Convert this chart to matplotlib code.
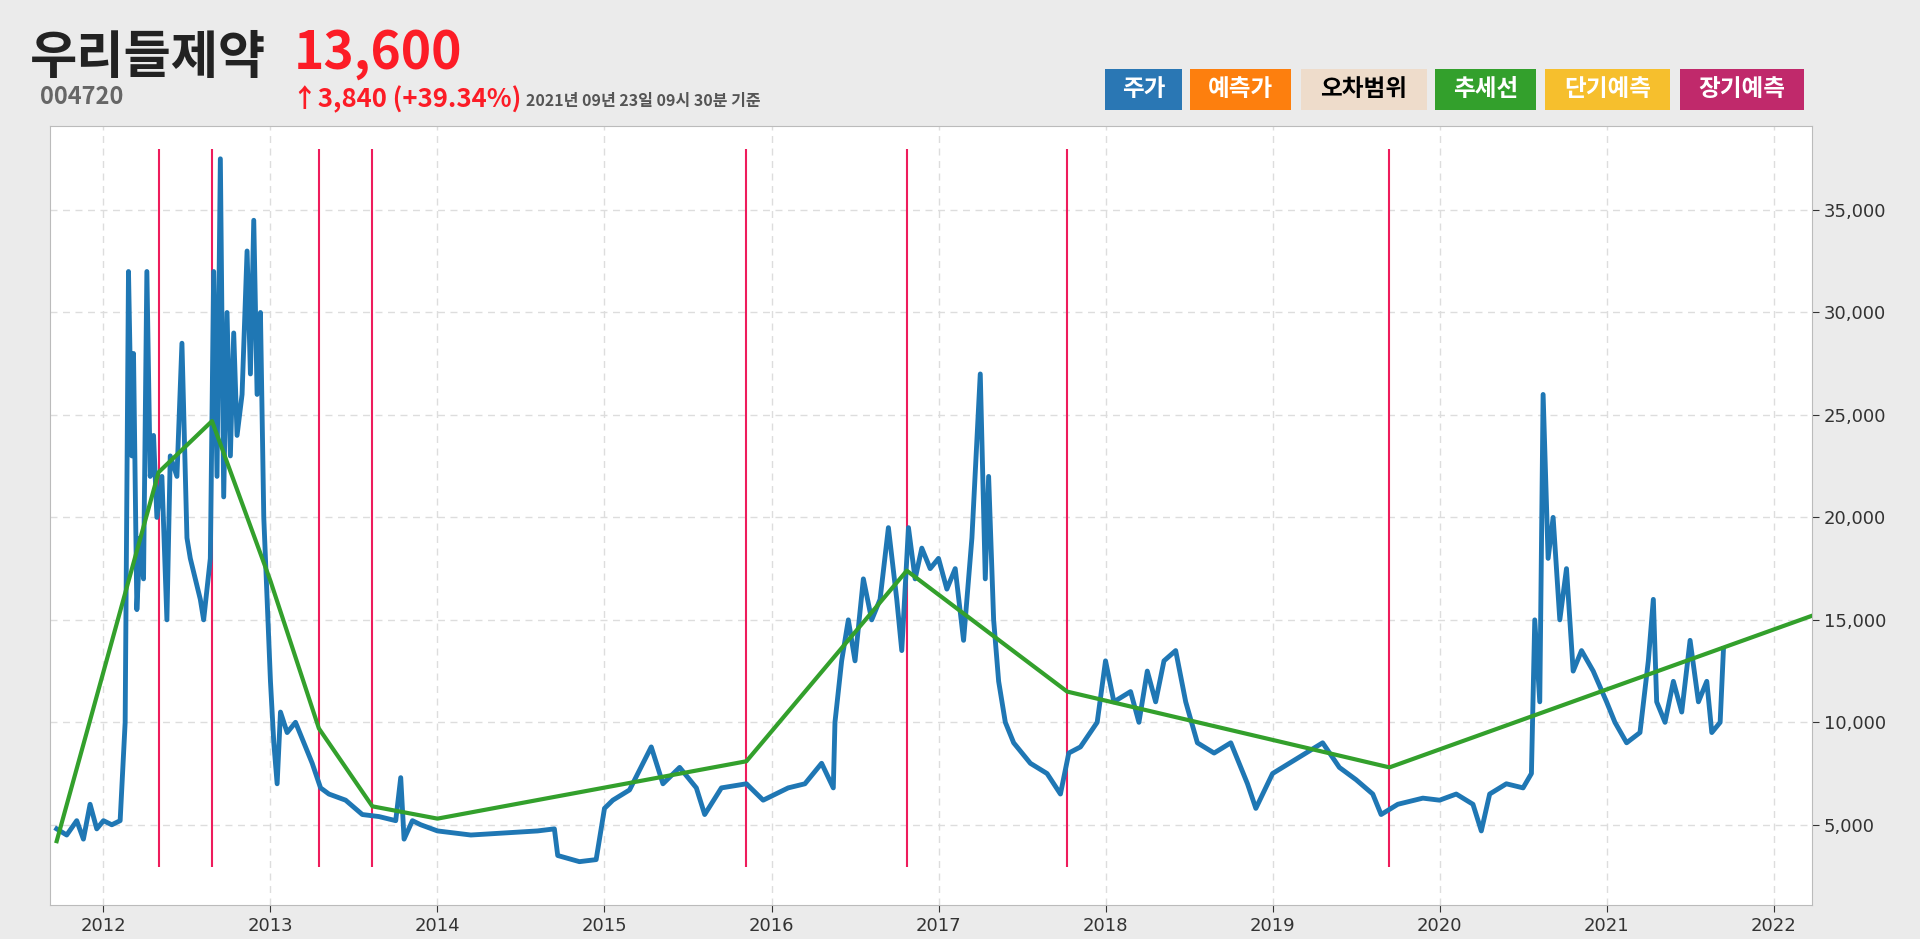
import matplotlib
matplotlib.use("Agg")
import matplotlib.pyplot as plt
from matplotlib.patches import Rectangle

KR = ["Noto Sans CJK KR", "Noto Sans CJK JP", "Noto Sans CJK SC", "DejaVu Sans"]

# price (decimal year, won)
price_x = [2011.72, 2011.78, 2011.84, 2011.88, 2011.92, 2011.96, 2012.0, 2012.05, 2012.1, 2012.13,
           2012.15, 2012.17, 2012.18, 2012.2, 2012.22, 2012.24, 2012.26, 2012.28, 2012.3, 2012.32,
           2012.35, 2012.38, 2012.4, 2012.44, 2012.47, 2012.5, 2012.52, 2012.55, 2012.58, 2012.6,
           2012.64, 2012.66, 2012.68, 2012.7, 2012.72, 2012.74, 2012.76, 2012.78, 2012.8, 2012.83,
           2012.86, 2012.88, 2012.9, 2012.92, 2012.94, 2012.96, 2013.0, 2013.02, 2013.04, 2013.06,
           2013.1, 2013.15, 2013.2, 2013.25, 2013.3, 2013.35, 2013.45, 2013.55, 2013.65, 2013.75,
           2013.78, 2013.8, 2013.85, 2013.9, 2014.0, 2014.2, 2014.4, 2014.6, 2014.7, 2014.72,
           2014.85, 2014.95, 2015.0, 2015.05, 2015.15, 2015.28, 2015.35, 2015.45, 2015.55, 2015.6,
           2015.7, 2015.85, 2015.95, 2016.1, 2016.2, 2016.3, 2016.37, 2016.38, 2016.42, 2016.46,
           2016.5, 2016.55, 2016.6, 2016.65, 2016.7, 2016.75, 2016.78, 2016.82, 2016.86, 2016.9,
           2016.95, 2017.0, 2017.05, 2017.1, 2017.15, 2017.2, 2017.25, 2017.28, 2017.3, 2017.33,
           2017.36, 2017.4, 2017.45, 2017.55, 2017.65, 2017.73, 2017.78, 2017.85, 2017.95, 2018.0,
           2018.05, 2018.15, 2018.2, 2018.25, 2018.3, 2018.35, 2018.42, 2018.48, 2018.55, 2018.65,
           2018.75, 2018.85, 2018.9, 2019.0, 2019.1, 2019.2, 2019.3, 2019.4, 2019.5, 2019.6,
           2019.65, 2019.75, 2019.9, 2020.0, 2020.1, 2020.2, 2020.25, 2020.3, 2020.4, 2020.5,
           2020.55, 2020.57, 2020.6, 2020.62, 2020.65, 2020.68, 2020.72, 2020.76, 2020.8, 2020.85,
           2020.92, 2021.0, 2021.05, 2021.12, 2021.2, 2021.25, 2021.28, 2021.3, 2021.35, 2021.4,
           2021.45, 2021.5, 2021.55, 2021.6, 2021.63, 2021.68, 2021.7]
price_y = [4800, 4500, 5200, 4300, 6000, 4800, 5200, 5000, 5200, 10000,
           32000, 23000, 28000, 15500, 19000, 17000, 32000, 22000, 24000, 20000,
           22000, 15000, 23000, 22000, 28500, 19000, 18000, 17000, 16000, 15000,
           18000, 32000, 22000, 37500, 21000, 30000, 23000, 29000, 24000, 26000,
           33000, 27000, 34500, 26000, 30000, 20000, 12000, 9000, 7000, 10500,
           9500, 10000, 9000, 8000, 6800, 6500, 6200, 5500, 5400, 5200,
           7300, 4300, 5200, 5000, 4700, 4500, 4600, 4700, 4800, 3500,
           3200, 3300, 5800, 6200, 6700, 8800, 7000, 7800, 6800, 5500,
           6800, 7000, 6200, 6800, 7000, 8000, 6800, 10000, 13000, 15000,
           13000, 17000, 15000, 16000, 19500, 16000, 13500, 19500, 17000, 18500,
           17500, 18000, 16500, 17500, 14000, 19000, 27000, 17000, 22000, 15000,
           12000, 10000, 9000, 8000, 7500, 6500, 8500, 8800, 10000, 13000,
           11000, 11500, 10000, 12500, 11000, 13000, 13500, 11000, 9000, 8500,
           9000, 7000, 5800, 7500, 8000, 8500, 9000, 7800, 7200, 6500,
           5500, 6000, 6300, 6200, 6500, 6000, 4700, 6500, 7000, 6800,
           7500, 15000, 11000, 26000, 18000, 20000, 15000, 17500, 12500, 13500,
           12500, 11000, 10000, 9000, 9500, 13000, 16000, 11000, 10000, 12000,
           10500, 14000, 11000, 12000, 9500, 10000, 13600]

# trend line knots
trend_x = [2011.72, 2012.33, 2012.65, 2013.0, 2013.29, 2013.61, 2014.0, 2015.85, 2016.81, 2017.77, 2019.70, 2022.23]
trend_y = [4200, 22200, 24700, 16900, 9700, 5900, 5300, 8100, 17400, 11500, 7800, 15200]

# long-term forecast markers
event_x = [2012.33, 2012.65, 2013.29, 2013.61, 2015.85, 2016.81, 2017.77, 2019.70]

year_ticks = list(range(2012, 2023))
price_ticks = [5000, 10000, 15000, 20000, 25000, 30000, 35000]

legend_names = ["주가", "예측가", "오차범위", "추세선", "단기예측", "장기예측"]
legend_colors = ["#2a77b4", "#fd7f0e", "#eedccb", "#33a02c", "#f6bf2d", "#c0296b"]
legend_text_colors = ["white", "white", "black", "white", "white", "white"]

W, H = 1920, 939
fig = plt.figure(figsize=(W / 100, H / 100), dpi=100, facecolor="#ebebeb")
ax = fig.add_axes([50 / W, 1 - 905 / H, 1762 / W, 779 / H])

ax.vlines(event_x, 2950, 38000, color="#ee1c5c", lw=1.5, zorder=2)
ax.plot(price_x, price_y, color="#1f77b4", lw=3.5, zorder=3)
ax.plot(trend_x, trend_y, color="#33a02c", lw=3, zorder=4)

ax.set_xlim(2011.68, 2022.23)
ax.set_ylim(1085, 39100)
ax.set_xticks(year_ticks)
ax.set_xticklabels([str(y) for y in year_ticks])
ax.set_yticks(price_ticks)
ax.set_yticklabels([f"{v:,}" for v in price_ticks])
ax.yaxis.tick_right()
ax.tick_params(labelsize=13, colors="#333333", length=5)
ax.grid(True, ls=(0, (5, 4)), color="#dddddd", lw=1)
for s in ax.spines.values():
    s.set_color("#bbbbbb")

def fx(px):
    return px / W

def fy(py):
    return 1 - py / H

fig.text(fx(30), fy(57), "우리들제약", fontsize=37, fontweight="bold", family=KR, color="#222222", va="center")
fig.text(fx(294), fy(53), "13,600", fontsize=37, fontweight="bold", family=KR, color="#fc1c26", va="center")
fig.text(fx(40), fy(97), "004720", fontsize=17, fontweight="bold", family=KR, color="#666666", va="center")
fig.text(fx(292), fy(100), "↑3,840 (+39.34%)", fontsize=18.5, fontweight="bold", family=KR, color="#fc1c26", va="center")
fig.text(fx(526), fy(101), "2021년 09년 23일 09시 30분 기준", fontsize=11.5, fontweight="bold", family=KR, color="#555555", va="center")

box_x = [(1105, 1182), (1190, 1291), (1301, 1427), (1435, 1536), (1545, 1670), (1680, 1804)]
for (x0, x1), name, c, tc in zip(box_x, legend_names, legend_colors, legend_text_colors):
    fig.patches.append(Rectangle((fx(x0), fy(110)), (x1 - x0) / W, 41 / H, transform=fig.transFigure,
                                 facecolor=c, edgecolor="none"))
    fig.text(fx((x0 + x1) / 2), fy(89), name, fontsize=17, fontweight="bold", family=KR,
             color=tc, ha="center", va="center")

fig.savefig("out.png", dpi=100, facecolor=fig.get_facecolor())
